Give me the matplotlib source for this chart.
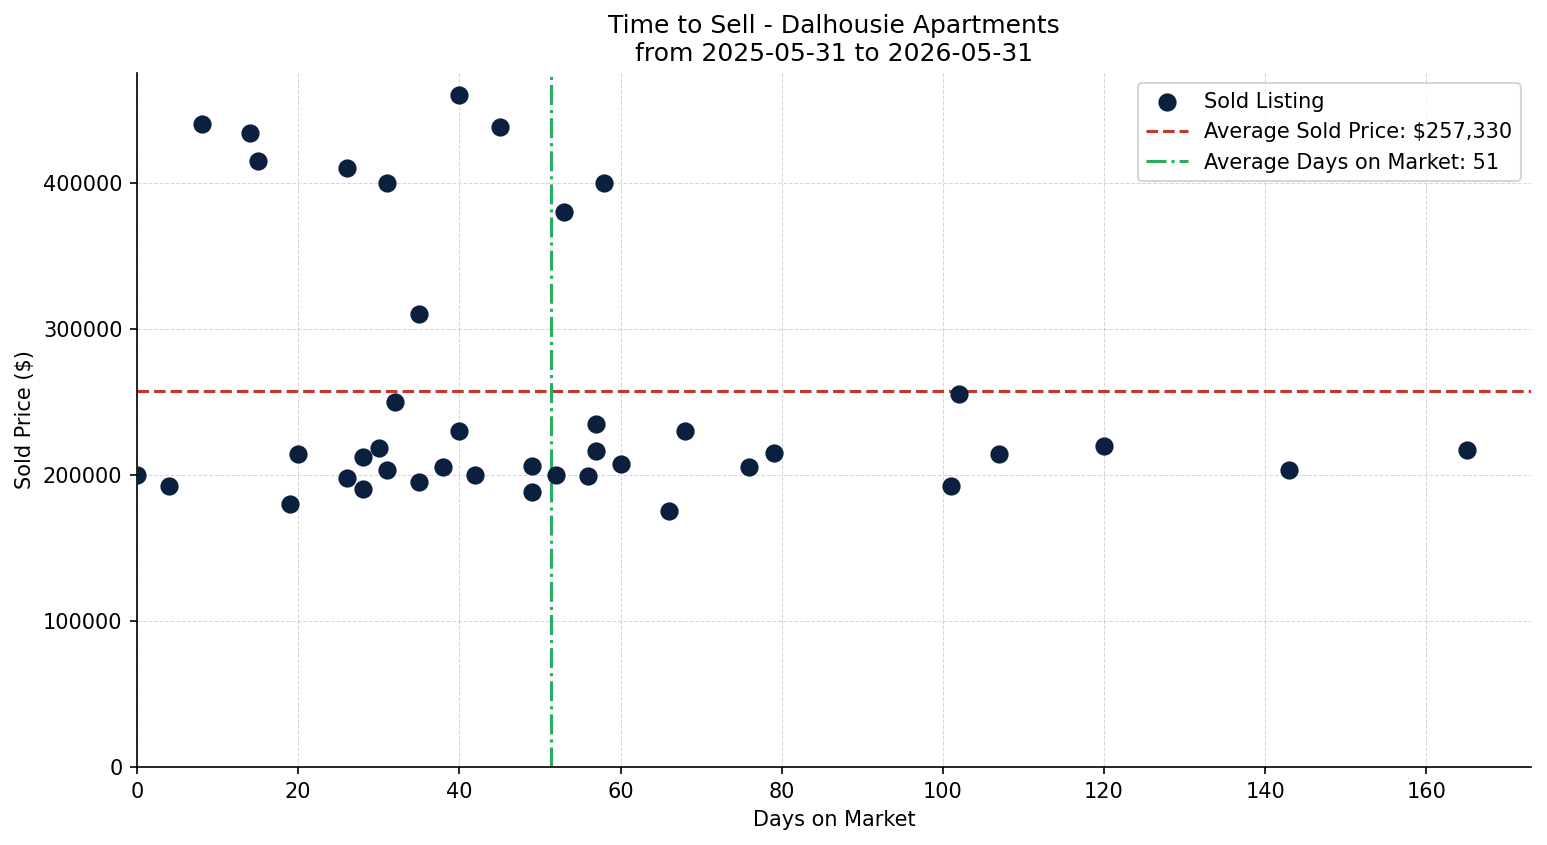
import numpy as np
import matplotlib.pyplot as plt

days = [0, 4, 8, 14, 15, 19, 20, 26, 26, 28, 28, 30, 31, 31, 32, 35, 35, 38, 40, 40,
        42, 45, 49, 49, 52, 53, 56, 57, 57, 58, 60, 66, 68, 76, 79, 101, 102, 107, 120, 143, 165]
prices = [200000, 192000, 440000, 434000, 415000, 180000, 214000, 410000, 198000, 212000,
          190000, 218000, 400000, 203000, 250000, 310000, 195000, 205000, 460000, 230000,
          200000, 438000, 206000, 188000, 200000, 380000, 199000, 235000, 216000, 400000,
          207500, 175000, 230000, 205000, 215000, 192000, 255000, 214000, 220000, 203000, 217000]

avg_price = 257330
avg_days = np.mean(days)

fig, ax = plt.subplots(figsize=(1547/150, 845/150), dpi=150)
ax.scatter(days, prices, s=60, color='#0b1f3f', zorder=3, label='Sold Listing')
ax.axhline(avg_price, color='#c0392b', linestyle='--', linewidth=1.5,
           label=f'Average Sold Price: ${avg_price:,.0f}')
ax.axvline(avg_days, color='#27ae60', linestyle='-.', linewidth=1.5,
           label=f'Average Days on Market: {avg_days:.0f}')

ax.set_xlim(0, 173)
ax.set_ylim(0, 475000)
ax.set_xlabel('Days on Market')
ax.set_ylabel('Sold Price ($)')
ax.set_title('Time to Sell - Dalhousie Apartments\nfrom 2025-05-31 to 2026-05-31')
ax.grid(True, linestyle='--', linewidth=0.5, alpha=0.5)
ax.spines['top'].set_visible(False)
ax.spines['right'].set_visible(False)
ax.legend(loc='upper right')

plt.subplots_adjust(left=0.0886, right=0.9897, top=0.9136, bottom=0.0923)
plt.savefig('out.png', dpi=150)
